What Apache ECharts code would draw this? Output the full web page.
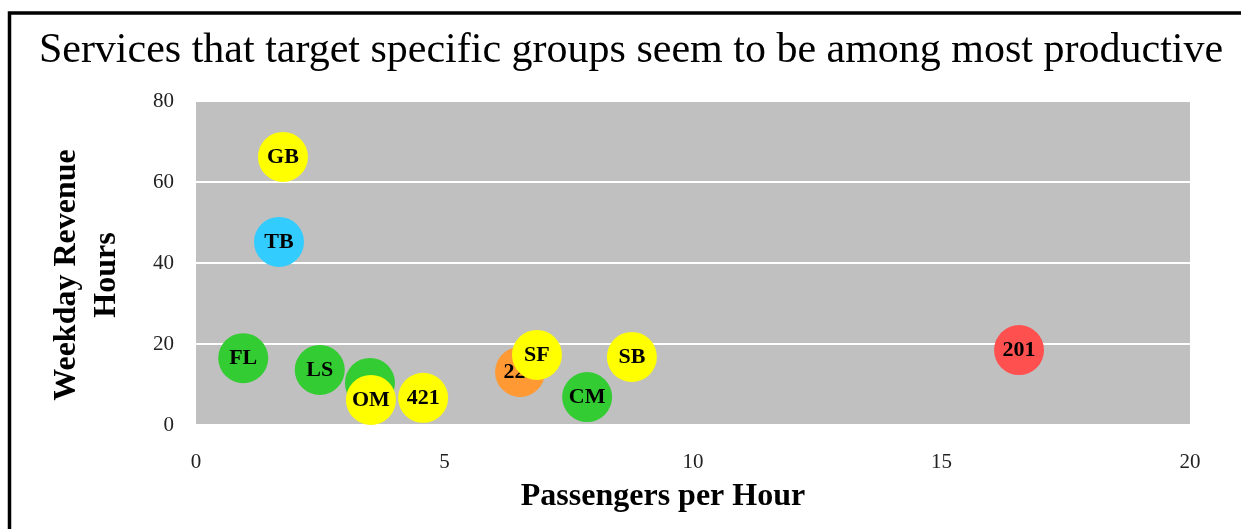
<!DOCTYPE html>
<html>
<head>
<meta charset="utf-8">
<script src="https://cdn.jsdelivr.net/npm/echarts@6/dist/echarts.min.js"></script>
<style>
  html, body { margin: 0; padding: 0; background: #fff; }
  #chart { width: 1241px; height: 529px; }
</style>
</head>
<body>
<div id="chart"></div>
<script>
// Services plotted by productivity (x) and weekday revenue hours (y)
const serviceNames = ['GB', 'TB', 'FL', 'LS', '', 'OM', '421', '221', 'SF', 'CM', 'SB', '201'];
const passengersPerHour = [1.75, 1.67, 0.95, 2.49, 3.50, 3.52, 4.57, 6.52, 6.86, 7.87, 8.77, 16.56];
const weekdayRevenueHours = [66.2, 45.2, 16.5, 13.6, 10.4, 6.2, 6.7, 13.1, 17.3, 6.9, 16.8, 18.5];
const bubbleColors = ['#FFFF00', '#33CCFF', '#33CC33', '#33CC33', '#33CC33', '#FFFF00',
                      '#FFFF00', '#FF9933', '#FFFF00', '#33CC33', '#FFFF00', '#FF5050'];
const xTicks = [0, 5, 10, 15, 20];
const yTicks = [0, 20, 40, 60, 80];

const serif = '"Liberation Serif", "Times New Roman", serif';

// one series per bubble so later bubbles (and their labels) sit on top of earlier ones
const series = serviceNames.map((name, i) => ({
  type: 'scatter',
  z: 2 + i,
  symbol: 'circle',
  symbolSize: 50,
  itemStyle: { color: bubbleColors[i], opacity: 1 },
  label: {
    show: name !== '',
    position: 'inside',
    formatter: name,
    color: '#000',
    fontFamily: serif,
    fontWeight: 'bold',
    fontSize: 22
  },
  emphasis: { disabled: true },
  data: [[passengersPerHour[i], weekdayRevenueHours[i]]]
}));

const chart = echarts.init(document.getElementById('chart'), null, { renderer: 'canvas' });
chart.setOption({
  animation: false,
  backgroundColor: '#fff',
  grid: {
    left: 196, right: 51, top: 101, bottom: 104,
    show: true, backgroundColor: '#C0C0C0', borderWidth: 0
  },
  xAxis: {
    type: 'value', min: xTicks[0], max: xTicks[xTicks.length - 1], interval: 5,
    axisLine: { show: false }, axisTick: { show: false },
    splitLine: { show: false },
    axisLabel: { margin: 27, color: '#222', fontFamily: serif, fontSize: 21 }
  },
  yAxis: {
    type: 'value', min: yTicks[0], max: yTicks[yTicks.length - 1], interval: 20,
    axisLine: { show: false }, axisTick: { show: false },
    splitLine: { show: true, lineStyle: { color: '#fff', width: 2 } },
    axisLabel: { margin: 22, color: '#222', fontFamily: serif, fontSize: 21 }
  },
  graphic: [
    {
      type: 'rect', silent: true, z: 100,
      shape: { x: 9.5, y: 13, width: 1400, height: 700 },
      style: { fill: 'none', stroke: '#000', lineWidth: 3.5 }
    },
    {
      type: 'text', x: 631, y: 51, z: 100,
      style: {
        text: 'Services that target specific groups seem to be among most productive',
        font: '42px ' + serif, fill: '#000', align: 'center', verticalAlign: 'middle'
      }
    },
    {
      type: 'text', x: 663, y: 497, z: 100,
      style: {
        text: 'Passengers per Hour',
        font: 'bold 32px ' + serif, fill: '#000', align: 'center', verticalAlign: 'middle'
      }
    },
    {
      type: 'text', x: 87, y: 275, z: 100, rotation: Math.PI / 2,
      style: {
        text: 'Weekday Revenue\nHours',
        font: 'bold 32px ' + serif, fill: '#000', align: 'center', verticalAlign: 'middle',
        lineHeight: 40
      }
    }
  ],
  series: series
});
</script>
</body>
</html>
